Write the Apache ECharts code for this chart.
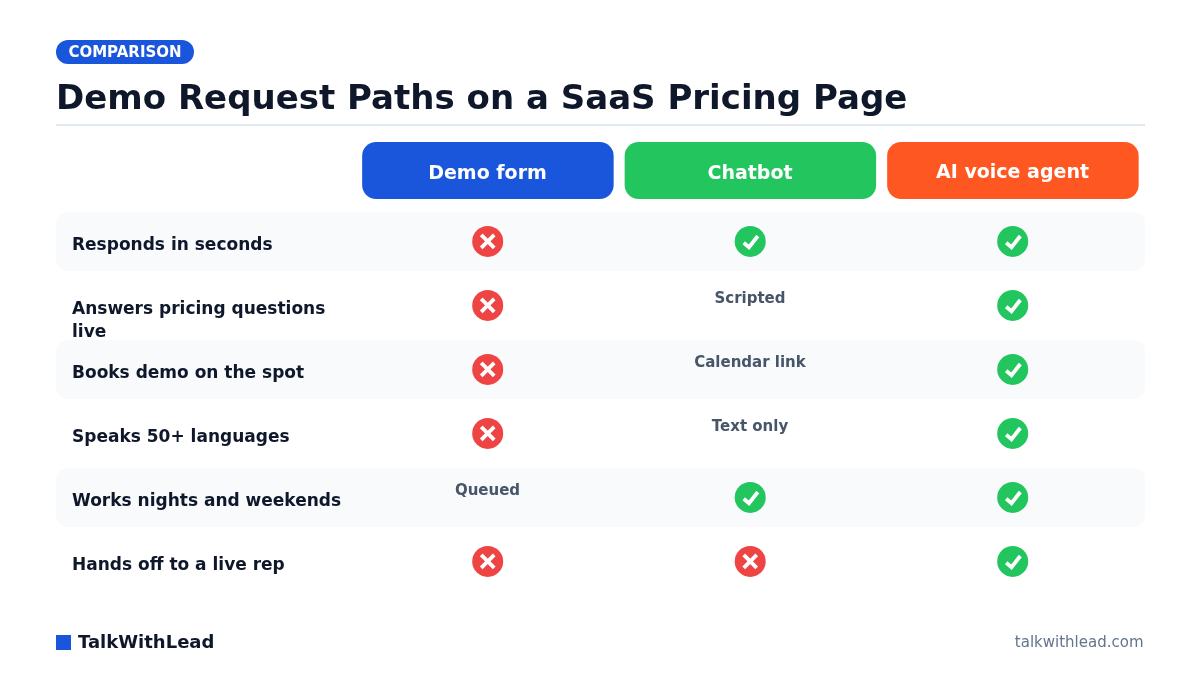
<!DOCTYPE html>
<html><head><meta charset="utf-8">
<style>html,body{margin:0;padding:0;background:#fff}#c{width:1200px;height:675px}</style>
<script src="https://cdn.jsdelivr.net/npm/echarts@6/dist/echarts.min.js"></script></head>
<body><div id="c"></div>
<script>
const tools = ['Demo form', 'Chatbot', 'AI voice agent'];
const toolColors = ['#1a56db', '#22c55e', '#ff5722'];
const features = ['Responds in seconds', 'Answers pricing questions\nlive', 'Books demo on the spot',
  'Speaks 50+ languages', 'Works nights and weekends', 'Hands off to a live rep'];
const demoForm = ['no', 'no', 'no', 'no', 'Queued', 'no'];
const chatbot = ['yes', 'Scripted', 'Calendar link', 'Text only', 'yes', 'no'];
const aiVoice = ['yes', 'yes', 'yes', 'yes', 'yes', 'yes'];
const columns = [demoForm, chatbot, aiVoice];
const FONT = '"DejaVu Sans", sans-serif';
const cells = [];
columns.forEach((col, c) => col.forEach((v, r) => cells.push([c, r, v])));

function renderBand(params, api) {
  const r = api.value(0);
  const y = api.coord([0, r])[1];
  const children = [];
  if (r % 2 === 0) children.push({type: 'rect', shape: {x: 56, y: y - 29, width: 1089, height: 59, r: 12},
    style: {fill: '#f8fafc'}});
  children.push({type: 'text', style: {text: features[r], x: 72, y: y - 6.5, font: 'bold 17px ' + FONT,
    lineHeight: 23, fill: '#0f172a', verticalAlign: 'top', align: 'left'}});
  return {type: 'group', children};
}
function renderCell(params, api) {
  const p = api.coord([api.value(0), api.value(1)]);
  const v = cells[params.dataIndex][2];
  if (v !== 'yes' && v !== 'no') {
    return {type: 'text', style: {text: v, x: p[0], y: p[1] - 6, font: 'bold 15px ' + FONT, fill: '#475569',
      align: 'center', verticalAlign: 'middle'}};
  }
  const mark = v === 'yes'
    ? [{type: 'polyline', shape: {points: [[-6.5, 1.4], [-1.2, 5.8], [7.6, -5.4]]}, style: {stroke: '#fff', lineWidth: 3.8, fill: null}}]
    : [{type: 'line', shape: {x1: -6.5, y1: -6.5, x2: 6.5, y2: 6.5}, style: {stroke: '#fff', lineWidth: 3.8}},
       {type: 'line', shape: {x1: -6.5, y1: 6.5, x2: 6.5, y2: -6.5}, style: {stroke: '#fff', lineWidth: 3.8}}];
  return {type: 'group', x: p[0] + 0.2, y: p[1] + 0.4, children: [
    {type: 'circle', shape: {cx: 0, cy: 0, r: 15.5}, style: {fill: v === 'yes' ? '#22c55e' : '#ef4444'}}
  ].concat(mark)};
}
function renderHeader(params, api) {
  const i = api.value(0);
  const p = api.coord([i, 0]);
  const s = api.size([1, 1]);
  const w = s[0] - 11, h = s[1];
  return {type: 'group', x: p[0] + 0.4, y: p[1], children: [
    {type: 'rect', shape: {x: -w / 2, y: -h / 2, width: w, height: h, r: 14}, style: {fill: toolColors[i]}},
    {type: 'text', style: {text: tools[i], x: -0.4, y: i === 2 ? 2.5 : 3.5, font: 'bold 19px ' + FONT, fill: '#fff', align: 'center', verticalAlign: 'middle'}}
  ]};
}
const hiddenAxis = {show: false};
const chart = echarts.init(document.getElementById('c'), null, {renderer: 'canvas'});
chart.setOption({
  animation: false,
  backgroundColor: '#ffffff',
  title: {text: 'Demo Request Paths on a SaaS Pricing Page', left: 51, top: 78,
    textStyle: {fontFamily: FONT, fontWeight: 'bold', fontSize: 34, color: '#0f172a'}},
  grid: [
    {left: 356.25, top: 209, width: 787.5, height: 384},
    {left: 356.25, top: 142, width: 787.5, height: 57}
  ],
  xAxis: [
    {type: 'category', gridIndex: 0, data: tools, ...hiddenAxis},
    {type: 'category', gridIndex: 1, data: tools, ...hiddenAxis}
  ],
  yAxis: [
    {type: 'category', gridIndex: 0, data: features, inverse: true, ...hiddenAxis},
    {type: 'category', gridIndex: 1, data: ['h'], ...hiddenAxis}
  ],
  graphic: [
    {type: 'rect', shape: {x: 56, y: 40, width: 138, height: 24, r: 12}, style: {fill: '#1a56db'}},
    {type: 'text', style: {text: 'COMPARISON', x: 125, y: 53.5, font: 'bold 15px ' + FONT, fill: '#fff', align: 'center', verticalAlign: 'middle'}},
    {type: 'rect', shape: {x: 56, y: 124, width: 1089, height: 2}, style: {fill: '#e2e8f0'}},
    {type: 'rect', shape: {x: 56, y: 635, width: 15, height: 15}, style: {fill: '#1a56db'}},
    {type: 'text', style: {text: 'TalkWithLead', x: 78, y: 643.5, font: 'bold 18px ' + FONT, fill: '#0f172a', verticalAlign: 'middle'}},
    {type: 'text', style: {text: 'talkwithlead.com', x: 1143.5, y: 643.5, font: '15px ' + FONT, fill: '#64748b', align: 'right', verticalAlign: 'middle'}}
  ],
  series: [
    {type: 'custom', coordinateSystem: 'cartesian2d', xAxisIndex: 0, yAxisIndex: 0, renderItem: renderBand, silent: true, z: 1,
      data: features.map((f, r) => [r]), encode: {y: 0}},
    {type: 'custom', coordinateSystem: 'cartesian2d', xAxisIndex: 0, yAxisIndex: 0, renderItem: renderCell, silent: true, z: 2,
      data: cells.map(c => [c[0], c[1]])},
    {type: 'custom', coordinateSystem: 'cartesian2d', xAxisIndex: 1, yAxisIndex: 1, renderItem: renderHeader, silent: true, z: 2,
      data: tools.map((t, i) => [i, 0])}
  ]
});
</script></body></html>
